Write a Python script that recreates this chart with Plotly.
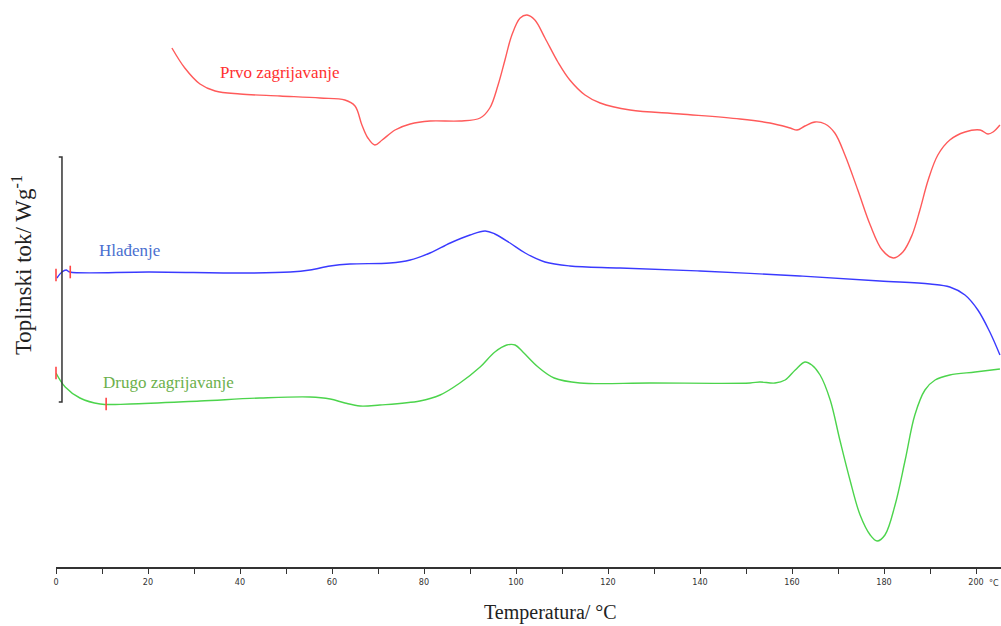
import plotly.graph_objects as go

# Temperatures (°C) and heat-flow values (arbitrary units, offset traces)
t_prvo = [25.2, 28, 31.3, 34.6, 40, 48.7, 57.4, 62.8, 65, 66.5, 67.8, 69.3, 70.9, 73.7, 77, 81.3,
          87.8, 92.2, 94.3, 96.1, 97.6, 99.1, 100.9, 102.4, 104.1, 106.3, 109.1, 111.7, 115, 118.3,
          124.8, 135.7, 148.7, 155.2, 159.6, 161.1, 162.8, 165, 167.2, 169.3, 171.5, 174.3, 177,
          179.6, 182, 184.1, 186.1, 187.8, 189.6, 191.7, 194.3, 197.6, 200.9, 202.6, 203.7, 205.2]
q_prvo = [519, 499, 483, 476, 473, 471, 469, 467, 461, 442, 429, 422, 427, 437, 443, 446,
          446, 449, 459, 482, 507, 532, 549, 552, 547, 529, 505, 487, 472, 464,
          457, 453, 448, 444, 439, 437, 441, 445, 443, 434, 412, 377, 342,
          317, 309, 315, 332, 357, 387, 412, 427, 435, 437, 433, 435, 442]

t_hlad = [0.2, 1.3, 2.2, 3, 20.4, 42, 50.9, 55.2, 59.6, 63.9, 72.6, 77, 81.3, 85.7, 90, 93.3,
          95.4, 98.7, 102, 106.3, 111.7, 122.6, 140, 161.7, 179.1, 190, 194.3, 197.6, 200.4,
          203, 205.2]
q_hlad = [289, 295, 297, 295, 295, 294, 295, 297, 301, 303, 304, 307, 314, 324, 332, 336,
          333, 324, 314, 305, 301, 299, 296, 291, 286, 283, 280, 272, 257,
          235, 212]

t_drugo = [0, 2, 5.2, 9.6, 16.1, 31.3, 44.3, 55.2, 59.6, 62.8, 66.1, 70.4, 79.1, 83.5, 87.8,
           92.2, 95.4, 98, 99.8, 101.5, 104.8, 108.3, 113.9, 129.1, 150.9, 153, 156.3, 158.5,
           160.7, 162.8, 164.3, 166.1, 168.3, 170.4, 172.6, 174.8, 177, 178.5, 180.2, 182.4,
           184.6, 186.7, 188.9, 191.1, 194.3, 199.8, 205.2]
q_drugo = [194, 180, 169, 163, 163, 166, 169, 170, 168, 164, 161, 162, 166, 172, 184,
           200, 215, 222, 222, 215, 200, 189, 184, 184, 184, 185, 184, 187,
           197, 205, 202, 192, 167, 127, 87, 52, 32, 26, 32, 62,
           107, 152, 177, 187, 192, 195, 198]

# Integration limit markers
lim_t = [0.0, 3.1, 0.0, 10.9]
lim_q = [292, 295, 194, 163]

serif = "Liberation Serif, Times New Roman, serif"
tickfont = dict(family="DejaVu Sans Condensed, DejaVu Sans", size=9, color="#333333")

fig = go.Figure()
fig.add_trace(go.Scatter(x=t_prvo, y=q_prvo, mode="lines", line=dict(color="#ff5a5a", width=1.4, shape="spline"),
                         showlegend=False, hoverinfo="skip"))
fig.add_trace(go.Scatter(x=t_hlad, y=q_hlad, mode="lines", line=dict(color="#3a3aff", width=1.4, shape="spline"),
                         showlegend=False, hoverinfo="skip"))
fig.add_trace(go.Scatter(x=t_drugo, y=q_drugo, mode="lines", line=dict(color="#4cd44c", width=1.4, shape="spline"),
                         showlegend=False, hoverinfo="skip"))
fig.add_trace(go.Scatter(x=lim_t, y=lim_q, mode="markers",
                         marker=dict(symbol="line-ns", size=9, line=dict(color="#ff4444", width=1.6)),
                         showlegend=False, hoverinfo="skip", cliponaxis=False))

# Y-scale bracket
fig.add_shape(type="path", path="M 0.6,165 L 1.3,165 L 1.3,410 L 0.6,410", xref="x", yref="y",
              line=dict(color="#333333", width=1.5))

fig.add_annotation(x=35.2, y=495, text="Prvo zagrijavanje", showarrow=False, xref="x", yref="y",
                   font=dict(family=serif, size=17, color="#ff3030"), xanchor="left", yanchor="middle")
fig.add_annotation(x=8.9, y=317, text="Hlađenje", showarrow=False, xref="x", yref="y",
                   font=dict(family=serif, size=17, color="#4a6fd0"), xanchor="left", yanchor="middle")
fig.add_annotation(x=9.8, y=185, text="Drugo zagrijavanje", showarrow=False, xref="x", yref="y",
                   font=dict(family=serif, size=17, color="#6cb04c"), xanchor="left", yanchor="middle")

fig.update_layout(
    width=1001, height=626,
    margin=dict(l=56, r=0, t=8, b=59),
    paper_bgcolor="white", plot_bgcolor="white",
    xaxis=dict(range=[0, 205.43], tick0=0, dtick=20, ticks="outside", ticklen=5,
               tickcolor="#333333", tickwidth=1, showline=True, linecolor="#333333", linewidth=1.5,
               showgrid=False, zeroline=False, tickfont=tickfont,
               minor=dict(tick0=0, dtick=10, ticks="outside", ticklen=5, tickcolor="#333333", showgrid=False)),
    yaxis=dict(range=[0, 559], visible=False, showgrid=False, zeroline=False),
)
fig.add_annotation(x=1.0, y=0.0, xref="paper", yref="paper", yshift=-9, text="°C", showarrow=False,
                   font=tickfont, xanchor="right", yanchor="top")
fig.add_annotation(x=0.523, y=0.0, xref="paper", yref="paper", yshift=-45, text="Temperatura/ °C",
                   showarrow=False, font=dict(family=serif, size=20, color="#222222"),
                   xanchor="center", yanchor="middle")
fig.add_annotation(x=-0.036, y=0.54, xref="paper", yref="paper", text="Toplinski tok/ Wg<sup>-1</sup>",
                   textangle=-90, showarrow=False, font=dict(family=serif, size=23, color="#222222"),
                   xanchor="center", yanchor="middle")

fig.write_html("out.html", config={"displayModeBar": False},
               post_script="document.body.style.margin='0';document.body.style.overflow='hidden';")
